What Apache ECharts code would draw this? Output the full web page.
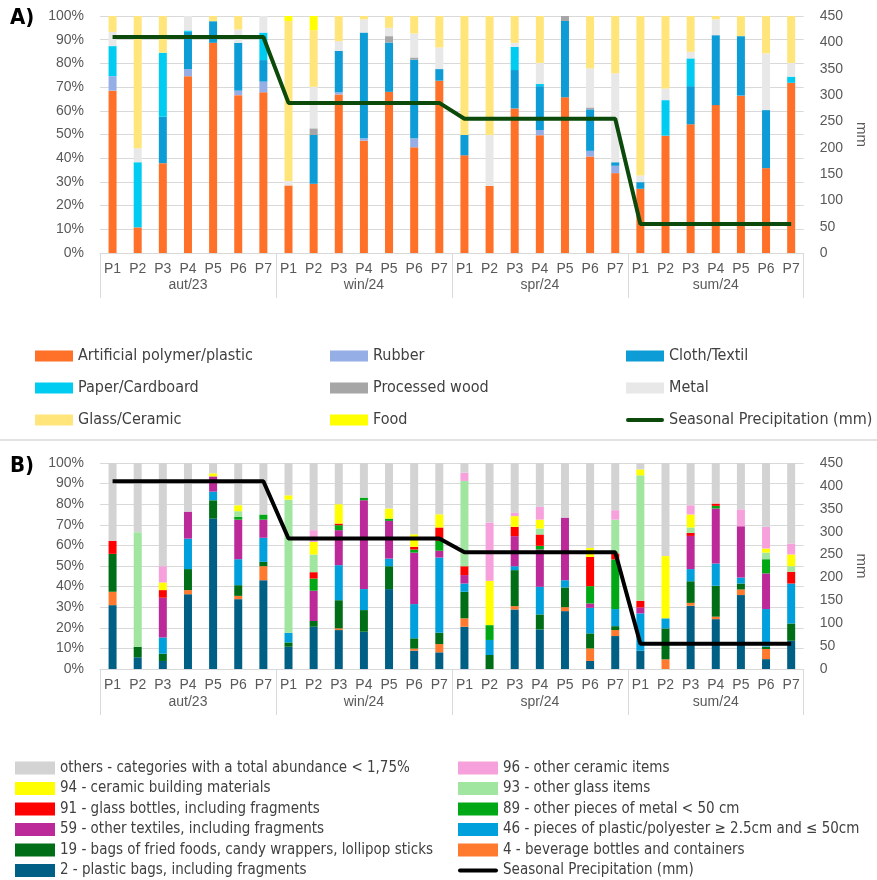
<!DOCTYPE html>
<html>
<head>
<meta charset="utf-8">
<script src="https://cdn.jsdelivr.net/npm/echarts@6/dist/echarts.min.js"></script>
<style>
  html, body { margin: 0; padding: 0; background: #fff; }
  #chart { width: 877px; height: 880px; }
</style>
</head>
<body>
<div id="chart"></div>
<script>
// periods and seasons
var periods = ['P1','P2','P3','P4','P5','P6','P7'];
var seasons = ['aut/23','win/24','spr/24','sum/24'];
var precip = [410, 285, 255, 55];   // mm per season

// ---- panel A: material types (% of items) ----
var plastic = [68.5,10.8,37.9,74.6,88.7,66.6,67.8, 28.5,29.2,66.9,47.4,68,44.6,72.7, 41.2,28.3,61,49.7,65.7,40.7,33.7, 27.1,49.5,54.3,62.4,66.4,35.8,71.8];
var rubber  = [6.1,0,0,3,0,1.9,4.5, 0,0,0.9,1,0,3.8,0, 0,0,0,2.2,0,2.4,3.1, 0,0,0,0,0,0,0];
var cloth   = [0,0,19.6,15.7,9.1,20.2,9.1, 0,20.6,17.5,44.6,20.8,33.2,4.9, 8.6,0,16.2,18.5,32.2,17.5,1.5, 2.8,0,16.1,29.5,25.1,24.5,0];
var paper   = [12.7,27.5,27,0.6,0,0,11.6, 0,0,0,0,0,0,0, 0,0,9.8,0.9,0,0,0, 0,15,11.7,0,0,0,2.6];
var wood    = [0,0,0,0,0,0,0, 0,2.8,0,0,2.7,0.9,0, 0,0,0,0,2.1,0.8,0, 0,0,0,0,0,0,0];
var metal   = [6,5.9,0,6.1,0,5.6,7, 1.9,17.5,4.1,5.6,3.5,10.1,9.1, 0,21.5,1.7,8.9,0,16.5,37.5, 2.8,4.9,2.8,6.7,0,23.9,5.8];
var glass   = [6.7,55.8,15.5,0,2.2,5.7,0, 67.5,23.9,10.6,1.4,5,7.4,13.3, 50.2,50.2,11.3,19.8,0,22.1,24.2, 67.3,30.6,15.1,1.4,8.5,15.8,19.8];
var food    = [0,0,0,0,0,0,0, 2.1,6,0,0,0,0,0, 0,0,0,0,0,0,0, 0,0,0,0,0,0,0];

// ---- panel B: item categories (% of items) ----
var c2   = [31,5.7,3.9,36.3,73,33.9,43.1, 10.8,20.5,18.9,18.1,38.8,8.9,8.1, 20.5,0,28.9,19.2,28.1,3.9,16, 8.9,0,30.7,24.2,35.9,4.8,13.7];
var c4   = [6.5,0,0,2,0,1.6,6.8, 0,0,0.8,0,0,1,4, 4.1,0,1.6,0,1.9,6.1,2.9, 0,4.7,1.4,1.2,2.7,4.9,0];
var c19  = [18.4,5.1,3.5,10.2,8.9,5.2,2.1, 2.1,2.8,13.7,10.5,11.1,5,5.5, 12.9,6.8,17.5,7.3,9.6,7.3,1.9, 0,15,10.5,15,2.9,1.1,8.4];
var c46  = [0,0,7.9,14.8,4.2,12.6,11.7, 4.7,0,17,10.2,3.7,16.6,36.5, 4,7.3,1.9,13.4,3.5,12.4,8.3, 18.1,4.9,5.9,10.8,2.9,18.3,19.4];
var c59  = [0,0,19.3,13.1,7.4,19.2,8.8, 0,14.7,17,43.1,18.3,25,3.3, 4.1,0,14.6,18.1,30.4,2.1,0, 2.9,0,16.1,26.7,24.9,17.3,0];
var c89  = [0,0,0,0,0,1.3,2.5, 0,5.9,2.4,1.3,1.1,1.5,4.8, 0,7.2,0,1.8,0,8.4,24.1, 0,0,0,1.3,0,6.9,0];
var c91  = [6.3,0,3.7,0,0,0,0, 0,3.1,0.8,0,0,1.3,6.5, 4.3,0,4.5,5.5,0,14.2,2.9, 3.2,0,1.5,1.1,0,0,5.7];
var c93  = [0,55.6,0,0,0,2.8,0, 64.6,8.6,0,0,0,0,0, 41.4,0,0,2.9,0,0,16.4, 60.9,0,2.6,0,0,3.2,2.7];
var c94  = [0,0,3.7,0,1.5,2.9,0, 2.1,6.1,9.4,0,4.9,6.1,6.4, 0,21.5,5.2,4.3,0,4.4,0, 2.9,30.2,6.3,0,0,2,5.7];
var c96  = [0,0,7.9,0,0,0,0, 0,5.7,0,0,0,0,0, 4,28.3,1.6,6.2,0,0,4.6, 0,0,4.5,0,8.2,10.5,5.3];
var others = [37.8,33.6,50.1,23.6,5,20.5,25, 15.7,32.6,20,16.8,22.1,34.6,24.9, 4.7,28.9,24.2,21.3,26.5,41.2,22.9, 3.1,45.2,20.5,19.7,22.5,31,39.1];

var cats = [];
seasons.forEach(function(){ periods.forEach(function(p){ cats.push(p); }); });
var precipLine = [];
precip.forEach(function(v){ periods.forEach(function(){ precipLine.push(v); }); });

var font = 'Liberation Sans, Arial, sans-serif';
var legendFont = 'Liberation Sans Narrow, DejaVu Sans Condensed, Roboto Condensed, sans-serif';
var grayTxt = '#595959';
var gridCol = '#D9D9D9';
var lineIcon = 'path://M2,0 L38,0 A2,2 0 0 1 38,4 L2,4 A2,2 0 0 1 2,0 Z';

function xAxes(gi, tickLen, seasonMargin){
    return [{
        type: 'category', gridIndex: gi, position: 'bottom', data: cats,
        axisLine: {lineStyle: {color: gridCol}},
        axisTick: {show: false},
        axisLabel: {interval: 0, margin: 9, color: grayTxt, fontSize: 14, fontFamily: font}
    },{
        type: 'category', gridIndex: gi, position: 'bottom', data: seasons,
        axisLine: {show: false},
        axisTick: {show: true, interval: 0, length: tickLen, lineStyle: {color: gridCol}},
        axisLabel: {interval: 0, margin: seasonMargin, color: grayTxt, fontSize: 14, fontFamily: font}
    }];
}
function yAxes(gi){
    return [{
        type: 'value', gridIndex: gi, min: 0, max: 100, interval: 10, position: 'left',
        axisLabel: {formatter: '{value}%', color: grayTxt, fontSize: 14, fontFamily: font, margin: 16},
        splitLine: {lineStyle: {color: gridCol}},
        axisLine: {show: false}, axisTick: {show: false}
    },{
        type: 'value', gridIndex: gi, min: 0, max: 450, interval: 50, position: 'right',
        name: 'mm', nameLocation: 'middle', nameRotate: -90, nameGap: 46,
        nameTextStyle: {color: grayTxt, fontSize: 15, fontFamily: font},
        axisLabel: {color: grayTxt, fontSize: 14, fontFamily: font, margin: 16},
        splitLine: {show: false}, axisLine: {show: false}, axisTick: {show: false}
    }];
}

function bar(name, data, color, gi, stack){
    return {
        name: name, type: 'bar', stack: stack, data: data,
        xAxisIndex: gi * 2, yAxisIndex: gi * 2,
        barWidth: 8, itemStyle: {color: color}, emphasis: {disabled: true}
    };
}

var seriesA = [
    bar('Artificial polymer/plastic', plastic, '#FF7029', 0, 'a'),
    bar('Rubber', rubber, '#96AEE6', 0, 'a'),
    bar('Cloth/Textil', cloth, '#0E9CD6', 0, 'a'),
    bar('Paper/Cardboard', paper, '#00CCF2', 0, 'a'),
    bar('Processed wood', wood, '#A6A6A6', 0, 'a'),
    bar('Metal', metal, '#E8E8E8', 0, 'a'),
    bar('Glass/Ceramic', glass, '#FFE57A', 0, 'a'),
    bar('Food', food, '#FFFF00', 0, 'a'),
    {
        name: 'Seasonal Precipitation (mm)', type: 'line', data: precipLine,
        xAxisIndex: 0, yAxisIndex: 1, symbol: 'none', z: 5,
        lineStyle: {width: 4, color: '#0B4A0B'}, itemStyle: {color: '#0B4A0B'}
    }
];
var seriesB = [
    bar('2 - plastic bags, including fragments', c2, '#005F85', 1, 'b'),
    bar('4 - beverage bottles and containers', c4, '#FF7A2E', 1, 'b'),
    bar('19 - bags of fried foods, candy wrappers, lollipop sticks', c19, '#006E17', 1, 'b'),
    bar('46 - pieces of plastic/polyester \u2265 2.5cm and \u2264 50cm', c46, '#00A0DC', 1, 'b'),
    bar('59 - other textiles, including fragments', c59, '#BC2A9A', 1, 'b'),
    bar('89 - other pieces of metal < 50 cm', c89, '#00A816', 1, 'b'),
    bar('91 - glass bottles, including fragments', c91, '#FF0000', 1, 'b'),
    bar('93 - other glass items', c93, '#A0E6A0', 1, 'b'),
    bar('94 - ceramic building materials', c94, '#FFFF00', 1, 'b'),
    bar('96 - other ceramic items', c96, '#F7A1DC', 1, 'b'),
    bar('others - categories with a total abundance < 1,75%', others, '#D3D3D3', 1, 'b'),
    {
        name: 'Seasonal Precipitation (mm) B', type: 'line', data: precipLine,
        xAxisIndex: 2, yAxisIndex: 3, symbol: 'none', z: 5,
        lineStyle: {width: 4, color: '#000000'}, itemStyle: {color: '#000000'}
    }
];

function legendCol(names, left, top, gap, w, h, fs){
    return {
        data: names.map(function(n){
            return n.indexOf('Seasonal') === 0 ? {name: n, icon: lineIcon} : {name: n, icon: 'rect'};
        }),
        orient: 'vertical', left: left, top: top, itemGap: gap, padding: 0,
        itemWidth: w, itemHeight: h, selectedMode: false,
        formatter: function(n){ return n.replace(' B', ''); },
        textStyle: {color: '#404040', fontSize: fs, fontFamily: legendFont, lineHeight: 16}
    };
}

var option = {
    animation: false,
    backgroundColor: '#fff',
    grid: [
        {left: 100, right: 68, top: 16, height: 237},
        {left: 100, right: 68, top: 463, height: 206}
    ],
    xAxis: xAxes(0, 45, 25).concat(xAxes(1, 46, 26)),
    yAxis: yAxes(0).concat(yAxes(1)),
    legend: [
        legendCol(['Artificial polymer/plastic','Paper/Cardboard','Glass/Ceramic'], 35, 348, 16, 38, 11, 16),
        legendCol(['Rubber','Processed wood','Food'], 330, 348, 16, 38, 11, 16),
        legendCol(['Cloth/Textil','Metal','Seasonal Precipitation (mm)'], 626, 348, 16, 38, 11, 16),
        legendCol(['others - categories with a total abundance < 1,75%','94 - ceramic building materials',
            '91 - glass bottles, including fragments','59 - other textiles, including fragments',
            '19 - bags of fried foods, candy wrappers, lollipop sticks','2 - plastic bags, including fragments'], 15, 760, 4.5, 40, 13, 15),
        legendCol(['96 - other ceramic items','93 - other glass items','89 - other pieces of metal < 50 cm',
            '46 - pieces of plastic/polyester \u2265 2.5cm and \u2264 50cm','4 - beverage bottles and containers',
            'Seasonal Precipitation (mm) B'], 458, 760, 4.5, 40, 13, 15)
    ],
    graphic: [
        {type: 'text', left: 10, top: 7, style: {text: 'A)', font: 'bold 22px ' + legendFont, fill: '#000'}},
        {type: 'text', left: 10, top: 455, style: {text: 'B)', font: 'bold 22px ' + legendFont, fill: '#000'}},
        {type: 'line', shape: {x1: 0, y1: 440, x2: 877, y2: 440}, style: {stroke: gridCol, lineWidth: 1.5}}
    ],
    series: seriesA.concat(seriesB)
};

var myChart = echarts.init(document.getElementById('chart'));
myChart.setOption(option);
</script>
</body>
</html>
